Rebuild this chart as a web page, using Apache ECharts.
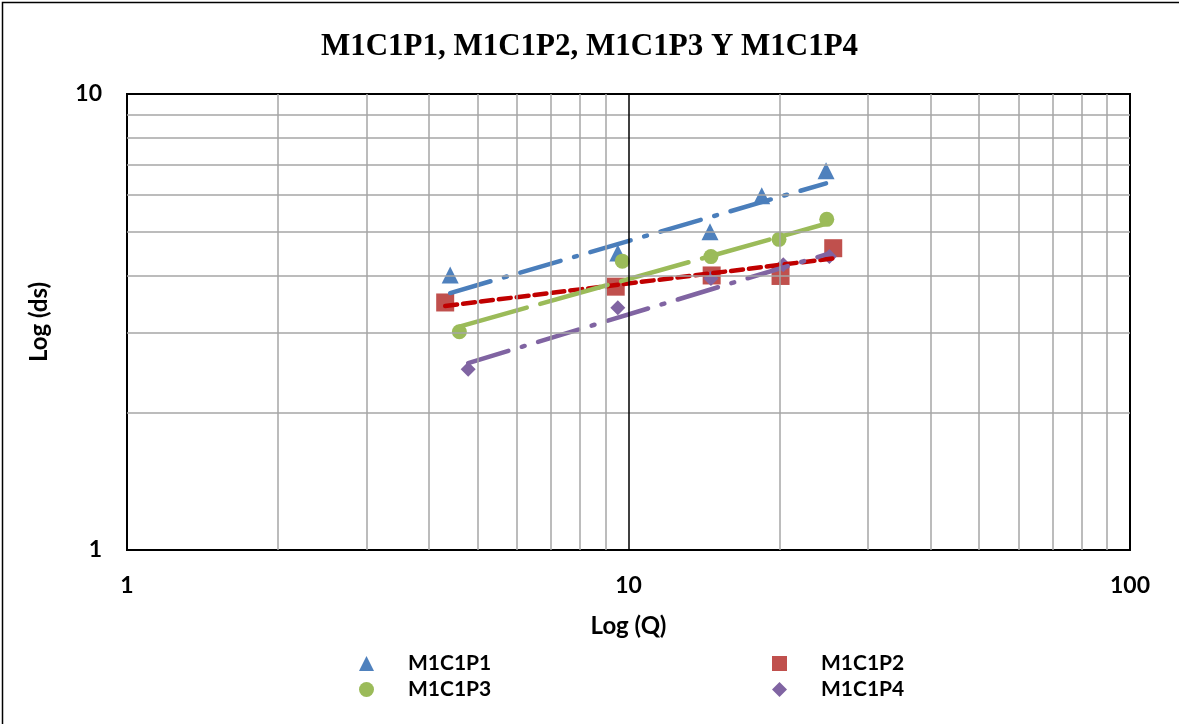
<!DOCTYPE html>
<html>
<head>
<meta charset="utf-8">
<script src="https://cdn.jsdelivr.net/npm/echarts@6/dist/echarts.min.js"></script>
<style>html,body{margin:0;padding:0;background:#fff}#c{width:1179px;height:724px}</style>
</head>
<body>
<div id="c"></div>
<script>
// ---- data ----
const p1X = [4.41, 9.52, 14.54, 18.44, 24.77];
const p1Y = [4.01, 4.48, 4.99, 5.98, 6.79];
const p2X = [4.31, 9.43, 14.65, 20.1, 25.6];
const p2Y = [3.49, 3.78, 4.0, 3.99, 4.59];
const p3X = [4.60, 9.72, 14.6, 19.96, 24.85];
const p3Y = [3.01, 4.30, 4.40, 4.80, 5.31];
const p4X = [4.79, 9.52, 14.6, 20.35, 25.15];
const p4Y = [2.49, 3.40, 3.94, 4.22, 4.40];
// trendline (power fit) end points
const t1X = [4.41, 24.77], t1Y = [3.66, 6.37];
const t2X = [4.31, 25.6],  t2Y = [3.43, 4.36];
const t3X = [4.60, 24.85], t3Y = [3.09, 5.20];
const t4X = [4.79, 25.15], t4Y = [2.57, 4.47];
const names = ['M1C1P1', 'M1C1P2', 'M1C1P3', 'M1C1P4'];
const xMinorGrid = [2, 3, 4, 5, 6, 7, 8, 9, 20, 30, 40, 50, 60, 70, 80, 90];
const yMinorGrid = [2, 3, 4, 5, 6, 7, 8, 9];

const zip = (xs, ys) => xs.map((x, i) => [x, ys[i]]);
const colors = ['#4F81BD', '#C0504D', '#9BBB59', '#8064A2'];
const lineColors = ['#4A7EBB', '#C00000', '#9BBB59', '#8064A2'];
const symbols = ['triangle', 'rect', 'circle', 'diamond'];
const symSizes = [17, 18, 15, 15];
const dashes = [[42, 14, 3, 14], [12, 6], [70, 14], [42, 14, 3, 14]];
const pts = [zip(p1X, p1Y), zip(p2X, p2Y), zip(p3X, p3Y), zip(p4X, p4Y)];
const trends = [zip(t1X, t1Y), zip(t2X, t2Y), zip(t3X, t3Y), zip(t4X, t4Y)];

const font = 'Lato, "Open Sans", sans-serif';
const series = [];
// grid lines via markLine on helper series
series.push({
  type: 'line', data: [], silent: true, z: 1,
  markLine: {
    silent: true, symbol: 'none', animation: false,
    label: {show: false},
    lineStyle: {color: '#A6A6A6', width: 1.5, type: 'solid'},
    data: xMinorGrid.map(v => ({xAxis: v})).concat(yMinorGrid.map(v => ({yAxis: v})))
  }
});
series.push({
  type: 'line', data: [], silent: true, z: 2,
  markLine: {
    silent: true, symbol: 'none', animation: false,
    label: {show: false},
    lineStyle: {color: '#000', width: 1.5, type: 'solid'},
    data: [{xAxis: 10}]
  }
});
for (let i = 0; i < 4; i++) {
  series.push({
    name: names[i], type: 'scatter', data: pts[i], symbol: symbols[i],
    symbolSize: symSizes[i], itemStyle: {color: colors[i], opacity: 1}, z: 3
  });
}
for (let i = 0; i < 4; i++) {
  series.push({
    name: names[i] + ' trend', type: 'line', data: trends[i], showSymbol: false, z: 4,
    lineStyle: {color: lineColors[i], width: 4.5, type: dashes[i], cap: 'round'}
  });
}
const legendPos = [[359, 653], [772, 653], [359, 679], [772, 679]];
const legends = names.map((n, i) => ({
  data: [{name: n, icon: symbols[i], itemStyle: {opacity: 1}}],
  left: legendPos[i][0], top: legendPos[i][1],
  itemWidth: 15, itemHeight: 15, padding: 0,
  textStyle: {fontFamily: font, fontWeight: 'bold', fontSize: 21, color: '#000', padding: [0, 0, 0, 29]}
}));

const chart = echarts.init(document.getElementById('c'));
chart.setOption({
  animation: false,
  title: {
    text: 'M1C1P1, M1C1P2, M1C1P3 Y M1C1P4', left: 'center', top: 26,
    textStyle: {fontFamily: '"Liberation Serif", serif', fontWeight: 'bold', fontSize: 31, color: '#000'}
  },
  legend: legends,
  grid: {left: 127, top: 94, width: 1003, height: 456, show: true, borderColor: '#000', borderWidth: 2, backgroundColor: 'transparent'},
  xAxis: {
    type: 'log', logBase: 10, min: 1, max: 100,
    name: 'Log (Q)', nameLocation: 'middle', nameGap: 64,
    nameTextStyle: {fontFamily: font, fontWeight: 'bold', fontSize: 24, color: '#000'},
    axisLine: {show: false}, axisTick: {show: false},
    axisLabel: {fontFamily: font, fontWeight: 'bold', fontSize: 23, color: '#000', margin: 24},
    splitLine: {show: false}
  },
  yAxis: {
    type: 'log', logBase: 10, min: 1, max: 10,
    name: 'Log (ds)', nameLocation: 'middle', nameGap: 76,
    nameTextStyle: {fontFamily: font, fontWeight: 'bold', fontSize: 24, color: '#000'},
    axisLine: {show: false}, axisTick: {show: false},
    axisLabel: {fontFamily: font, fontWeight: 'bold', fontSize: 23, color: '#000', margin: 25},
    splitLine: {show: false}
  },
  graphic: [{type: 'rect', left: 0, top: 0, shape: {x: 0, y: 0, width: 1178, height: 723},
    style: {fill: 'none', stroke: '#000', lineWidth: 1.5}, silent: true, z: -1}],
  series: series
});
</script>
</body>
</html>
